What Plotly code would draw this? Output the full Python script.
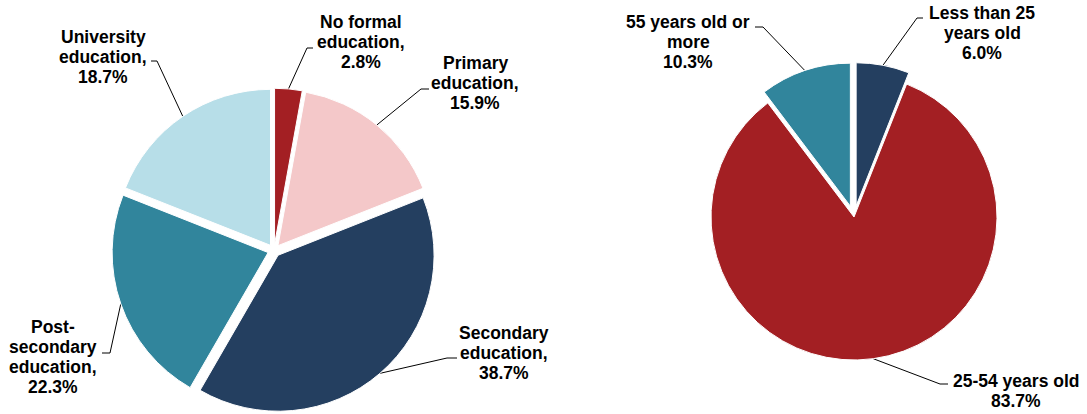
import math
import plotly.graph_objects as go

W, H = 1087, 414

# Education level breakdown (left pie), clockwise from 12 o'clock
edu_labels = ["No formal education", "Primary education", "Secondary education",
              "Post-secondary education", "University education"]
edu_values = [2.8, 15.9, 38.7, 22.3, 18.7]
edu_text = [["No formal", "education,"], ["Primary", "education,"], ["Secondary", "education,"],
            ["Post-", "secondary", "education,"], ["University", "education,"]]
edu_colors = ["#A31F23", "#F4C8C9", "#243F60", "#31859C", "#B7DEE8"]

# Age breakdown (right pie)
age_labels = ["Less than 25 years old", "25-54 years old", "55 years old or more"]
age_values = [6.0, 83.7, 10.3]
age_text = [["Less than 25", "years old"], ["25-54 years old"], ["55 years old or", "more"]]
age_colors = ["#243F60", "#A31F23", "#31859C"]

# pie placement in pixels: centre, radius, pull per slice
EDU_GEOM = dict(cx=274, cy=250.5, r=156, pull=[0.04] * 5)
AGE_GEOM = dict(cx=854, cy=217, r=143, pull=[0.08, 0.0, 0.08])

# label layout: text centre x, first line centre y, leader elbow, leader end
EDU_LAYOUT = [
    dict(tx=361, ty=22, elbow=(307, 48), end=(313, 48)),
    dict(tx=475, ty=63, elbow=(421, 89), end=(429, 89)),
    dict(tx=504, ty=333, elbow=(447, 358), end=(457, 358)),
    dict(tx=53, ty=327, elbow=(110, 353), end=(102, 353)),
    dict(tx=103, ty=37, elbow=(157, 61), end=(151, 61)),
]
AGE_LAYOUT = [
    dict(tx=982, ty=13, elbow=(917, 18), end=(923, 18)),
    dict(tx=1016, ty=381, elbow=(940, 384), end=(948, 384)),
    dict(tx=688, ty=22, elbow=(763, 27), end=(755, 27)),
]

LINE_GAP = 20
FONT = dict(family="Liberation Sans, Arial, sans-serif", size=17.5, color="#000000")


def domain_for(g):
    side = 2 * g["r"] * (1 + max(g["pull"]))
    x0 = (g["cx"] - side / 2) / W
    x1 = (g["cx"] + side / 2) / W
    y0 = 1 - (g["cy"] + side / 2) / H
    y1 = 1 - (g["cy"] - side / 2) / H
    return dict(x=[x0, x1], y=[y0, y1])


def leader_starts(values, g):
    total = sum(values)
    cum = 0.0
    pts = []
    for v, p in zip(values, g["pull"]):
        theta = math.radians(360 * (cum + v / 2) / total)
        sx, sy = math.sin(theta), -math.cos(theta)
        cx = g["cx"] + p * g["r"] * sx
        cy = g["cy"] + p * g["r"] * sy
        pts.append((cx + g["r"] * sx, cy + g["r"] * sy))
        cum += v
    return pts


fig = go.Figure()

for labels, values, colors, g in [
    (edu_labels, edu_values, edu_colors, EDU_GEOM),
    (age_labels, age_values, age_colors, AGE_GEOM),
]:
    fig.add_trace(go.Pie(
        labels=labels, values=values, sort=False, direction="clockwise", rotation=0,
        pull=g["pull"], textinfo="none", hoverinfo="label+percent",
        marker=dict(colors=colors, line=dict(color="#FFFFFF", width=1)),
        domain=domain_for(g), showlegend=False,
    ))

annotations = []
for values, texts, layout, g in [
    (edu_values, edu_text, EDU_LAYOUT, EDU_GEOM),
    (age_values, age_text, AGE_LAYOUT, AGE_GEOM),
]:
    starts = leader_starts(values, g)
    for v, lines, lay, (sx, sy) in zip(values, texts, layout, starts):
        ex, ey = lay["elbow"]
        tx, ty = lay["end"]
        fig.add_trace(go.Scatter(
            x=[sx, ex, tx], y=[sy, ey, ty], mode="lines",
            line=dict(color="#000000", width=1), hoverinfo="skip", showlegend=False,
            xaxis="x", yaxis="y",
        ))
        for i, line in enumerate(lines + [f"{v:.1f}%"]):
            annotations.append(dict(
                x=lay["tx"], y=lay["ty"] + i * LINE_GAP, xref="x", yref="y",
                text=f"<b>{line}</b>", showarrow=False, xanchor="center", yanchor="middle",
                font=FONT,
            ))

fig.update_layout(
    width=W, height=H, autosize=False,
    margin=dict(l=0, r=0, t=0, b=0),
    paper_bgcolor="#FFFFFF", plot_bgcolor="rgba(0,0,0,0)",
    xaxis=dict(range=[0, W], visible=False, fixedrange=True, domain=[0, 1]),
    yaxis=dict(range=[H, 0], visible=False, fixedrange=True, domain=[0, 1]),
    annotations=annotations,
)

fig.write_html("out.html")
